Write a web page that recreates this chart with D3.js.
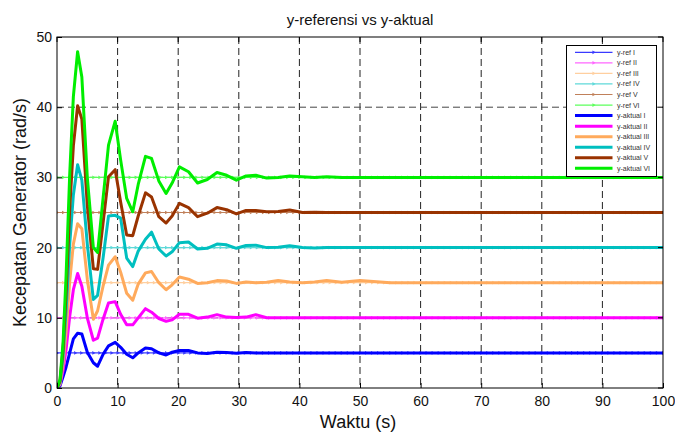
<!DOCTYPE html>
<html><head><meta charset="utf-8">
<script src="https://cdn.jsdelivr.net/npm/d3@7"></script>
<style>
body{margin:0;background:#fff;}
text{font-family:"Liberation Sans",Arial,sans-serif;}
</style></head>
<body><svg id="c" width="675" height="436"></svg>
<script>
// ---- data ----
const time = [0,0.5,1,1.5,2.1,2.7,3.4,4.1,5.0,6.0,6.7,7.6,8.5,9.6,10.5,11.5,12.5,13.4,14.6,15.6,16.8,18.0,19.0,20.2,21.7,23.2,24.8,26.4,28.0,29.6,31.2,32.8,34.6,36.5,38.4,40.5,42.5,44.5,47,50,55,60,65,70,75,80,85,90,95,100];
const aktualI   = [0,0.3,1.6,3.0,5.0,7.0,7.8,7.7,5.1,3.6,3.1,4.8,6.0,6.5,5.8,4.8,4.3,5.0,5.7,5.6,5.0,4.7,5.1,5.35,5.35,5.0,4.9,5.1,5.05,4.95,5.05,5.0,5.0,5.0,5.0,5.0,5.0,5.0,5.0,5.0,5.0,5.0,5.0,5.0,5.0,5.0,5.0,5.0,5.0,5.0];
const aktualII  = [0,0.5,2.5,5.5,10.2,14.0,16.3,14.5,10.0,6.8,7.1,9.8,12.1,12.3,10.5,9.0,9.0,10.0,11.3,10.8,9.9,9.5,9.7,10.5,10.5,9.95,10.1,10.45,10.1,10.05,10.1,10.45,10.0,10.0,10.0,10.0,10.0,10.0,10.0,10.0,10.0,10.0,10.0,10.0,10.0,10.0,10.0,10.0,10.0,10.0];
const aktualIII = [0,0.6,3.5,8.0,15.2,20.5,23.4,22.7,15.5,9.8,11.0,14.5,17.5,18.7,16.5,13.5,12.5,14.8,16.4,16.6,15.0,14.0,14.7,15.8,15.5,14.9,15.0,15.3,15.25,14.9,15.1,15.0,15.05,15.3,15.1,15.0,15.1,15.3,15.05,15.3,15.0,15.0,15.0,15.0,15.0,15.0,15.0,15.0,15.0,15.0];
const aktualIV  = [0,0.8,4.5,11.0,20.5,27.5,31.8,29.6,20.5,12.6,13.2,18.5,24.5,24.6,24.2,18.5,17.3,19.5,21.2,22.2,19.8,18.8,19.4,20.7,20.8,19.8,19.9,20.5,20.4,19.9,20.3,20.35,20.0,20.05,20.25,20.0,19.95,20.0,20.0,20.0,20.0,20.0,20.0,20.0,20.0,20.0,20.0,20.0,20.0,20.0];
const aktualV   = [0,1.0,5.5,13.5,25.5,34.5,40.2,38.3,26.0,17.0,16.9,23.5,30.1,31.1,26.5,21.8,21.7,24.5,27.8,27.2,24.4,23.5,24.5,26.3,25.7,24.4,24.9,25.7,25.4,24.8,25.3,25.3,25.1,25.15,25.35,25.0,25.05,25.0,25.0,25.0,25.0,25.0,25.0,25.0,25.0,25.0,25.0,25.0,25.0,25.0];
const aktualVI  = [0,1.2,6.5,16.0,30.5,41.5,47.9,44.3,30.0,20.0,19.3,27.0,34.6,38.0,32.5,27.0,25.1,29.0,33.0,32.7,29.5,27.7,29.2,31.5,30.8,29.2,29.7,30.7,30.3,29.6,30.2,30.3,29.9,30.0,30.2,30.1,30.0,30.1,30.0,30.0,30.0,30.0,30.0,30.0,30.0,30.0,30.0,30.0,30.0,30.0];
const refValues = [5,10,15,20,25,30];
const refTime = d3.range(0,101,1);
const refNames = ["y-ref I","y-ref II","y-ref III","y-ref IV","y-ref V","y-ref VI"];
const aktNames = ["y-aktual I","y-aktual II","y-aktual III","y-aktual IV","y-aktual V","y-aktual VI"];
const refColors = ["#3a3aff","#ff66ff","#ffcf9f","#5fd9d9","#c0805a","#5cff5c"];
const aktColors = ["#0000ff","#ff00ff","#ffaa5c","#00bfbf","#993300","#00ee00"];
const xTicks = [0,10,20,30,40,50,60,70,80,90,100];
const yTicks = [0,10,20,30,40,50];
const aktual = [aktualI,aktualII,aktualIII,aktualIV,aktualV,aktualVI];

// ---- layout ----
const svg = d3.select("#c");
const L=57,R=663,T=37,B=388;
const x = d3.scaleLinear().domain([0,100]).range([L,R]);
const y = d3.scaleLinear().domain([0,50]).range([B,T]);

// grid
const g = svg.append("g");
g.selectAll(".vg").data(xTicks.slice(1,-1)).join("line")
 .attr("x1",d=>x(d)).attr("x2",d=>x(d)).attr("y1",T).attr("y2",B)
 .attr("stroke","#222").attr("stroke-width",1).attr("stroke-dasharray","7,4");
g.selectAll(".hg").data(yTicks.slice(1,-1)).join("line")
 .attr("y1",d=>y(d)).attr("y2",d=>y(d)).attr("x1",L).attr("x2",R)
 .attr("stroke","#444").attr("stroke-width",1).attr("stroke-dasharray","7,4");

// clip
svg.append("clipPath").attr("id","clip").append("rect").attr("x",L).attr("y",T).attr("width",R-L).attr("height",B-T);
const plot = svg.append("g").attr("clip-path","url(#clip)");

// ref lines
const tri = d3.symbol().type(d3.symbolTriangle).size(6);
refValues.forEach((rv,i)=>{
  const line = d3.line().x(d=>x(d)).y(()=>y(rv));
  plot.append("path").attr("d",line(refTime)).attr("fill","none")
    .attr("stroke",refColors[i]).attr("stroke-width",1.2);
  plot.append("g").selectAll("path").data(refTime).join("path")
    .attr("d",tri).attr("transform",d=>`translate(${x(d)},${y(rv)}) rotate(90)`)
    .attr("fill",refColors[i]);
});
// actual lines
aktual.forEach((arr,i)=>{
  const line = d3.line().x((d,j)=>x(time[j])).y(d=>y(d));
  plot.append("path").attr("d",line(arr)).attr("fill","none")
    .attr("stroke",aktColors[i]).attr("stroke-width",3).attr("stroke-linejoin","round");
});

// axes box
svg.append("rect").attr("x",L).attr("y",T).attr("width",R-L).attr("height",B-T)
 .attr("fill","none").attr("stroke","#000").attr("stroke-width",1);
const xa = svg.append("g").attr("transform",`translate(0,${B})`)
 .call(d3.axisBottom(x).tickValues(xTicks).tickSize(-5).tickPadding(8).tickFormat(d3.format("d")));
const ya = svg.append("g").attr("transform",`translate(${L},0)`)
 .call(d3.axisLeft(y).tickValues(yTicks).tickSize(-5).tickPadding(5).tickFormat(d3.format("d")));
[xa,ya].forEach(a=>{a.select(".domain").remove();
  a.selectAll("text").attr("font-size",14).attr("fill","#111").attr("font-family","Liberation Sans, Arial, sans-serif");
  a.selectAll("line").attr("stroke","#000");});
// top/right ticks
svg.append("g").selectAll("line").data(xTicks).join("line")
 .attr("x1",d=>x(d)).attr("x2",d=>x(d)).attr("y1",T).attr("y2",T+5).attr("stroke","#000");
svg.append("g").selectAll("line").data(yTicks).join("line")
 .attr("y1",d=>y(d)).attr("y2",d=>y(d)).attr("x1",R).attr("x2",R-5).attr("stroke","#000");

// titles
svg.append("text").attr("x",360).attr("y",25).attr("text-anchor","middle").attr("font-size",15).attr("fill","#111").text("y-referensi vs y-aktual");
svg.append("text").attr("x",358).attr("y",428).attr("text-anchor","middle").attr("font-size",18).attr("fill","#111").text("Waktu (s)");
svg.append("text").attr("transform",`translate(26,${(T+B)/2}) rotate(-90)`).attr("text-anchor","middle").attr("font-size",18).attr("fill","#111").text("Kecepatan Generator (rad/s)");

// legend
const lg = svg.append("g");
lg.append("rect").attr("x",566.5).attr("y",45.5).attr("width",90).attr("height",131)
 .attr("fill","#fff").attr("stroke","#000").attr("stroke-width",1);
const names = refNames.concat(aktNames);
names.forEach((n,i)=>{
  const yy = 52.3 + i*10.55;
  const isRef = i<6;
  const col = isRef ? refColors[i] : aktColors[i-6];
  lg.append("line").attr("x1",575).attr("x2",612.5).attr("y1",yy).attr("y2",yy)
    .attr("stroke",col).attr("stroke-width",isRef?1.2:3);
  if(isRef) lg.append("path").attr("d",tri).attr("transform",`translate(593.5,${yy}) rotate(90)`).attr("fill",col);
  lg.append("text").attr("x",617).attr("y",yy+2.5).attr("font-size",7).attr("fill","#333").text(n);
});
</script></body></html>
